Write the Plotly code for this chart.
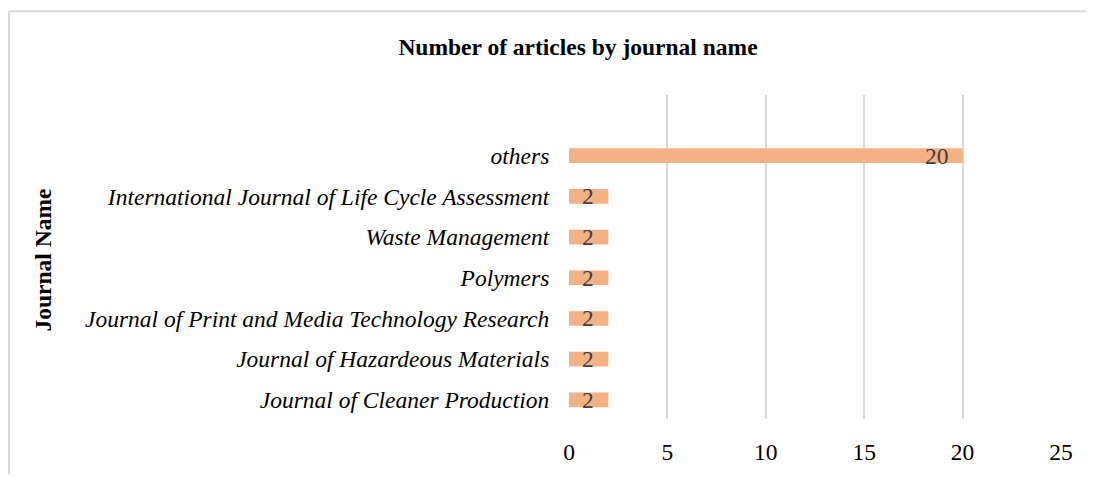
import plotly.graph_objects as go

journals = [
    "Journal of Cleaner Production",
    "Journal of Hazardeous Materials",
    "Journal of Print and Media Technology Research",
    "Polymers",
    "Waste Management",
    "International Journal of Life Cycle Assessment",
    "others",
]
articles = [2, 2, 2, 2, 2, 2, 20]
x_ticks = [0, 5, 10, 15, 20, 25]

# page body has an 8px default margin: work in page pixels, shift by OFF
OFF = 8
W, H = 1094 - OFF, 477 - OFF
L, R, T, B = 569 - OFF, 1061 - OFF, 95 - OFF, 424 - OFF
SERIF = "Liberation Serif, Times New Roman, serif"
FS = 23.5

fig = go.Figure()
fig.add_trace(go.Bar(
    y=list(range(len(journals))),
    x=articles,
    orientation="h",
    width=0.36,
    marker=dict(color="#F4B183", line=dict(width=0)),
    hoverinfo="skip",
))

pw = R - L
ph = B - T


def px_x(p):
    return (p - OFF - L) / pw


def px_y(p):
    return (B - (p - OFF)) / ph


value_labels = [
    dict(x=v, y=i, text=str(v), xref="x", yref="y",
         xanchor="right", yanchor="middle", xshift=-12, showarrow=False,
         font=dict(family=SERIF, size=FS, color="#404040"))
    for i, v in enumerate(articles)
]

fig.update_layout(
    width=W, height=H,
    margin=dict(l=L, r=W - R, t=T, b=H - B, pad=0),
    plot_bgcolor="white", paper_bgcolor="white",
    showlegend=False,
    title=dict(
        text="<b>Number of articles by journal name</b>",
        x=(578 - OFF) / W, xref="container", xanchor="center",
        y=1 - (47 - OFF) / H, yref="container", yanchor="middle",
        font=dict(family=SERIF, size=FS, color="black"),
    ),
    xaxis=dict(
        range=[0, 25], tickvals=x_ticks, ticktext=[str(v) for v in x_ticks],
        showgrid=True, gridcolor="#d9d9d9", gridwidth=2,
        zeroline=False, showline=False,
        tickfont=dict(family=SERIF, size=FS, color="black"),
        ticks="outside", ticklen=12, tickcolor="rgba(0,0,0,0)",
        fixedrange=True,
    ),
    yaxis=dict(
        range=[-0.47, 7.49],
        tickvals=list(range(len(journals))), ticktext=journals,
        showgrid=False, zeroline=False, showline=False,
        tickfont=dict(family=SERIF, size=FS, color="black", style="italic"),
        ticks="outside", ticklen=14, tickcolor="rgba(0,0,0,0)",
        fixedrange=True,
    ),
    annotations=value_labels + [dict(
        text="<b>Journal Name</b>", textangle=-90,
        xref="paper", yref="paper",
        x=px_x(43), y=px_y(263), xanchor="center", yanchor="middle",
        showarrow=False,
        font=dict(family=SERIF, size=FS, color="black"),
    )],
    shapes=[
        dict(type="line", xref="paper", yref="paper",
             x0=px_x(9), x1=px_x(1100), y0=px_y(10), y1=px_y(10),
             line=dict(color="#d9d9d9", width=2)),
        dict(type="line", xref="paper", yref="paper",
             x0=px_x(9), x1=px_x(9), y0=px_y(10), y1=px_y(480),
             line=dict(color="#d9d9d9", width=2)),
    ],
)

fig.write_html("out.html")
